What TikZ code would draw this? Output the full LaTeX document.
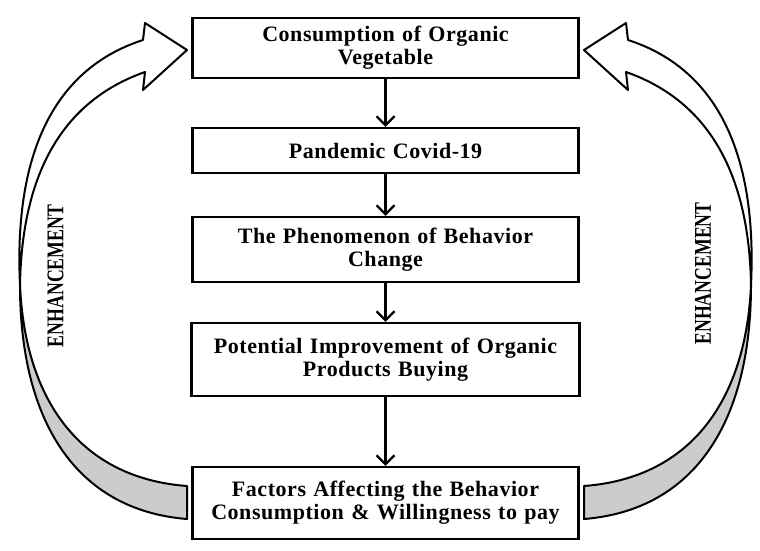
\documentclass[tikz,border=0pt]{standalone}
\usepackage{fontspec}
\setmainfont{Liberation Serif}
\usetikzlibrary{arrows.meta}
\begin{document}
\begin{tikzpicture}[x=1pt,y=-1pt,
  box/.style={draw, line width=2.4pt, fill=white, minimum height=#1, minimum width=386pt,
    text width=380pt, align=center, inner sep=0pt,
    font=\fontsize{22}{23}\selectfont\bfseries\addfontfeatures{LetterSpace=2.5}},
  conn/.style={line width=2.2pt, -{Straight Barb[length=9pt,width=18pt]}},
  rib/.style={line width=2pt, line join=round},
  enh/.style={rotate=90, inner sep=0pt, font=\fontsize{24}{24}\selectfont\bfseries}]
\useasboundingbox (0,0) rectangle (760,550);
% left twisted arrow
\begin{scope}[rib]
  \filldraw[fill=white] (143,40) -- (145,23) -- (187,50) -- (143,90) -- (145,72)
    .. controls (65,100) and (22,170) .. (20,285)
    .. controls (14,160) and (50,70) .. (143,40) -- cycle;
  \filldraw[fill=gray!40] (20,285) .. controls (20,420) and (75,510) .. (187,519)
    -- (187,486) .. controls (80,478) and (25,400) .. (20,285) -- cycle;
\end{scope}
% right twisted arrow (mirror)
\begin{scope}[rib, shift={(771,0)}, xscale=-1]
  \filldraw[fill=white] (143,40) -- (145,23) -- (187,50) -- (143,90) -- (145,72)
    .. controls (65,100) and (22,170) .. (20,285)
    .. controls (14,160) and (50,70) .. (143,40) -- cycle;
  \filldraw[fill=gray!40] (20,285) .. controls (20,420) and (75,510) .. (187,519)
    -- (187,486) .. controls (80,478) and (25,400) .. (20,285) -- cycle;
\end{scope}
% boxes
\node[box=60pt] (b1) at (385.5,48) {Consumption of Organic\\Vegetable};
\node[box=45pt] (b2) at (385.5,150.5) {Pandemic Covid-19};
\node[box=65pt] (b3) at (385.5,249.5) {The Phenomenon of Behavior\\Change};
\node[box=73pt, minimum width=388pt] (b4) at (385.5,359.5) {Potential Improvement of Organic\\Products Buying};
\node[box=72pt] (b5) at (385.5,503) {Factors Affecting the Behavior\\Consumption \& Willingness to pay};
% connectors
\draw[conn] (b1) -- (b2);
\draw[conn] (b2) -- (b3);
\draw[conn] (b3) -- (b4);
\draw[conn] (b4) -- (b5);
% labels
\node[enh] (e1) at (55.5,276) {\scalebox{0.74}[1]{ENHANCEMENT}};
\node[enh] (e2) at (703,273.5) {\scalebox{0.74}[1]{ENHANCEMENT}};
\end{tikzpicture}
\end{document}
